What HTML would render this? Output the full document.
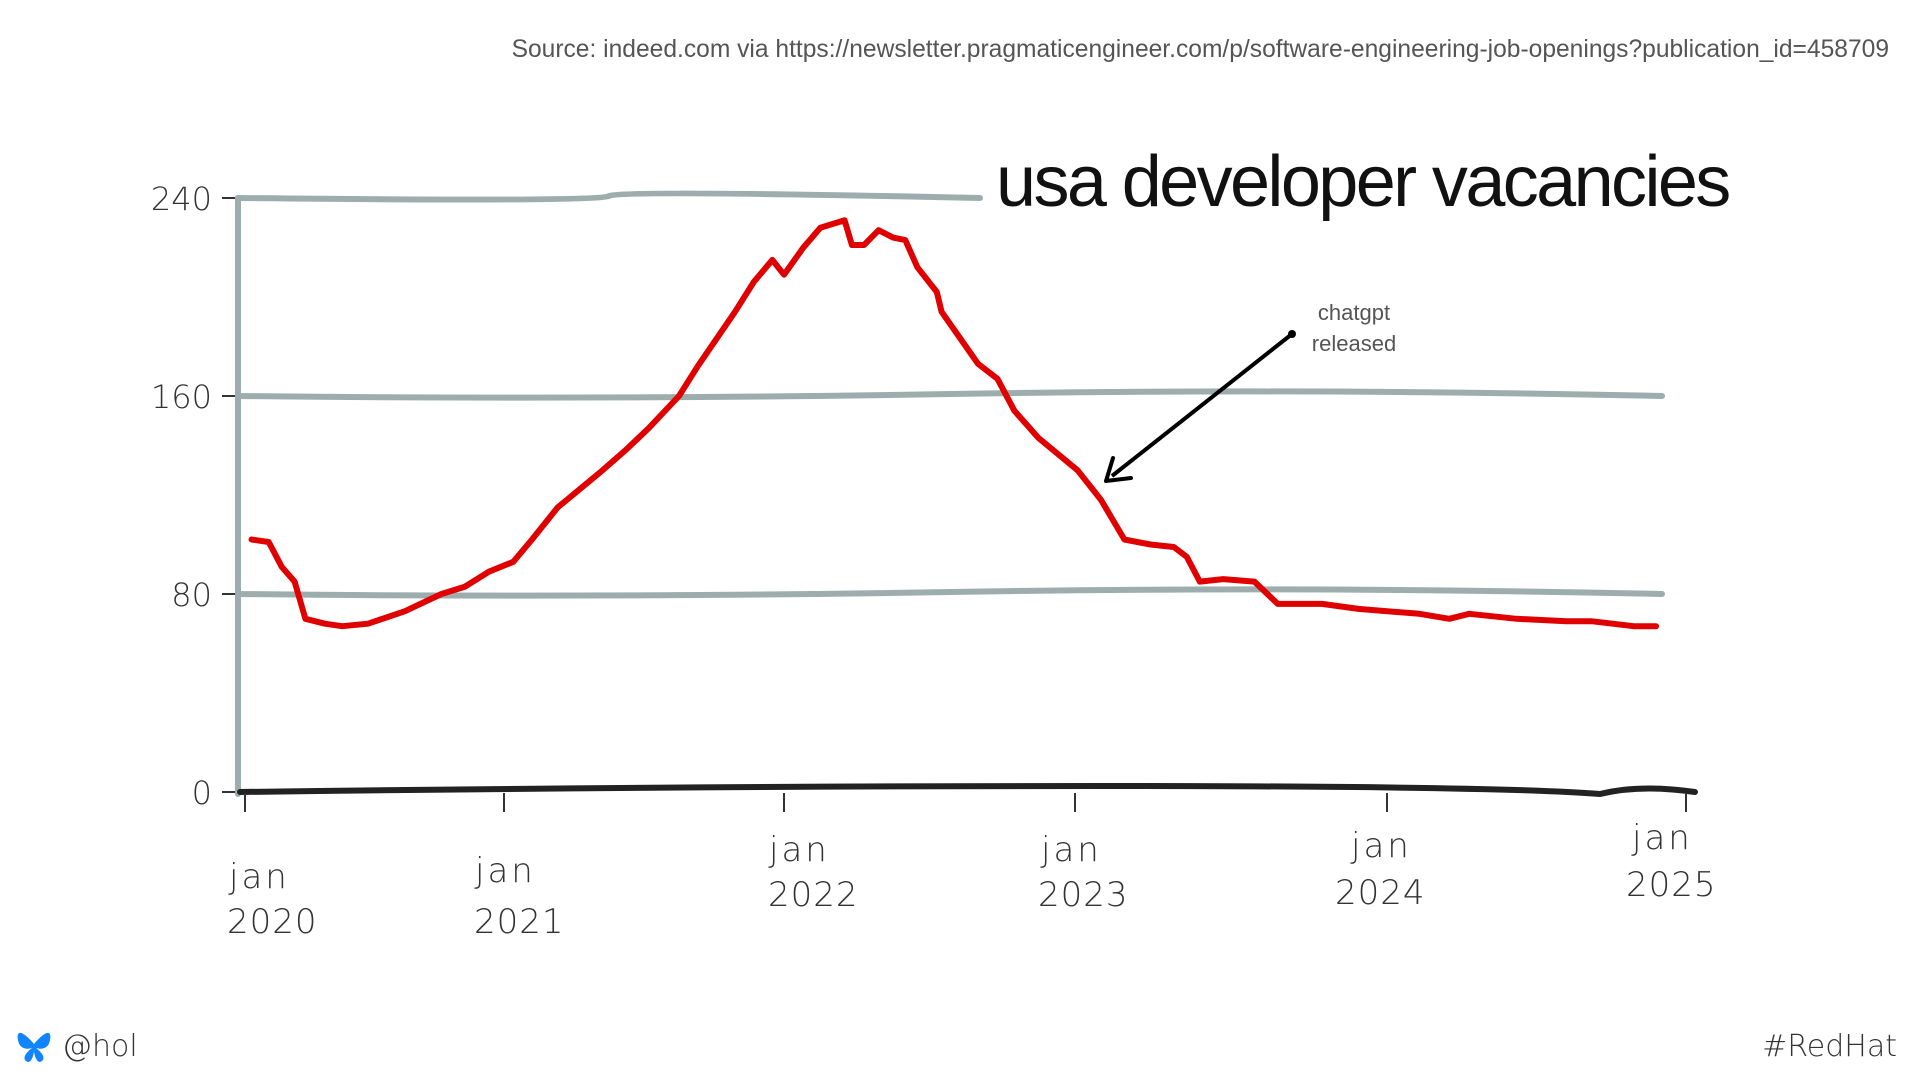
<!DOCTYPE html>
<html><head><meta charset="utf-8"><style>
html,body{margin:0;padding:0;background:#fff;width:1920px;height:1080px;overflow:hidden}
svg{display:block}
.hand{font-family:"DejaVu Sans","Liberation Sans",sans-serif;fill:#333;font-weight:300}
</style></head><body>
<svg id="chart" width="1920" height="1080" viewBox="0 0 1920 1080">
<text x="1889" y="57" text-anchor="end" font-family="Liberation Sans, sans-serif" font-size="24.6" fill="#555">Source: indeed.com via https://newsletter.pragmaticengineer.com/p/software-engineering-job-openings?publication_id=458709</text>
<text x="996" y="206" font-family="Liberation Sans, sans-serif" font-size="72" fill="#111" letter-spacing="-2.6">usa developer vacancies</text>
<g id="grid"></g>
<g id="axes"></g>
<path id="series" fill="none" stroke="#e00000" stroke-width="6" stroke-linejoin="round" stroke-linecap="round"/>
<g>
<line x1="1292" y1="334" x2="1112" y2="476" stroke="#000" stroke-width="4"/>
<circle cx="1292" cy="334" r="4" fill="#000"/>
<path d="M1106 481 L1113 458 M1106 481 L1131 478" stroke="#000" stroke-width="4" fill="none" stroke-linecap="round"/>
<text x="1354" y="320" text-anchor="middle" font-family="Liberation Sans, sans-serif" font-size="22" fill="#555">chatgpt</text>
<text x="1354" y="351" text-anchor="middle" font-family="Liberation Sans, sans-serif" font-size="22" fill="#555">released</text>
</g>
<g>
<path d="M34 1044 C22 1030 16 1030 18 1040 C19 1048 26 1050 32 1048 C24 1054 22 1060 28 1062 C32 1062 34 1054 34 1050 C34 1054 36 1062 40 1062 C46 1060 44 1054 36 1048 C42 1050 49 1048 50 1040 C52 1030 46 1030 34 1044Z" fill="#1185fe"/>
<text x="62" y="1056" class="hand" font-size="30">@hol</text>
</g>
<text x="1897" y="1056" text-anchor="end" class="hand" font-size="30">#RedHat</text>
</svg>
<script>
const tickMonths=[0,12,24,36,48,60];
const tickYears=["2020","2021","2022","2023","2024","2025"];
const yTicks=[0,80,160,240];
const months=[0.3,1.1,1.7,2.3,2.8,3.7,4.5,5.7,7.4,9.1,10.2,11.3,12.4,13.2,14.3,16.1,17.2,18.2,19.5,20.3,21.9,22.7,23.5,24,24.8,25.5,26.5,26.8,27.3,27.9,28.5,29.0,29.5,30.3,30.5,31.5,32.0,32.8,33.5,34.5,36.1,37.0,37.9,38.9,39.8,40.3,40.8,41.7,42.9,43.8,44.5,45.5,46.9,49.3,50.5,51.3,53.2,55.2,56.2,57.9,58.8];
const values=[102,101,91,85,70,68,67,68,73,80,83,89,93,102,115,129,138,147,160,172,194,206,215,209,220,228,231,221,221,227,224,223,212,202,194,180,173,167,154,143,130,118,102,100,99,95,85,86,85,76,76,76,74,72,70,72,70,69,69,67,67];
const tickPx=[245,504,784,1075,1387,1686];
function xScale(m){for(let i=0;i<tickMonths.length-1;i++){if(m<=tickMonths[i+1]||i===tickMonths.length-2){const t=(m-tickMonths[i])/(tickMonths[i+1]-tickMonths[i]);return tickPx[i]+t*(tickPx[i+1]-tickPx[i]);}}}
function yScale(v){return 792-v*(594/240);}
const NS="http://www.w3.org/2000/svg";
const grid=document.getElementById('grid'),axes=document.getElementById('axes');
function mk(tag,attrs,parent){const e=document.createElementNS(NS,tag);for(const k in attrs)e.setAttribute(k,attrs[k]);parent.appendChild(e);return e;}
yTicks.forEach(v=>{
  const y=yScale(v);
  if(v>0){
    const x2=v===240?980:1662;
    const g=mk('path',{d:`M238 ${y} Q600 ${y+4} ${(238+x2)/2} ${y-2} T ${x2} ${y}`,stroke:'#9dadad','stroke-width':6,fill:'none','stroke-linecap':'round'},grid);
    
    
  }
  const tk=mk('line',{x1:222,x2:238,y1:y,y2:y,stroke:'#333','stroke-width':2},axes);
  
  
  const t=mk('text',{x:212,y:y+12,'text-anchor':'end','font-size':32,class:'hand'},axes);
  t.textContent=v;
  
  
});
const ya=mk('line',{x1:238,x2:238,y1:198,y2:794,stroke:'#9dadad','stroke-width':6,'stroke-linecap':'round'},axes);


const xa=mk('path',{d:'M240 792 Q700 786 1100 786 T1600 794 Q1640 784 1695 792',stroke:'#222','stroke-width':6,fill:'none','stroke-linecap':'round'},axes);


const janPos=[[229,888],[475,882],[769,861],[1041,861],[1351,857],[1632,849]];
const yearPos=[[227,933],[474,933],[768,906],[1038,906],[1335,904],[1626,896]];
tickMonths.forEach((m,i)=>{
  const x=xScale(m);
  const tk=mk('line',{x1:x,x2:x,y1:793,y2:812,stroke:'#333','stroke-width':2},axes);
  
  
  const t1=mk('text',{x:janPos[i][0],y:janPos[i][1],'font-size':34,class:'hand','letter-spacing':3},axes);
  t1.textContent='jan';
  
  
  const t2=mk('text',{x:yearPos[i][0],y:yearPos[i][1],'font-size':34,class:'hand','letter-spacing':1},axes);
  t2.textContent=tickYears[i];
  
  
});
document.getElementById('series').setAttribute('d',months.map((m,i)=>(i?'L':'M')+xScale(m).toFixed(1)+' '+yScale(values[i]).toFixed(1)).join(' '));
</script>
</body></html>
